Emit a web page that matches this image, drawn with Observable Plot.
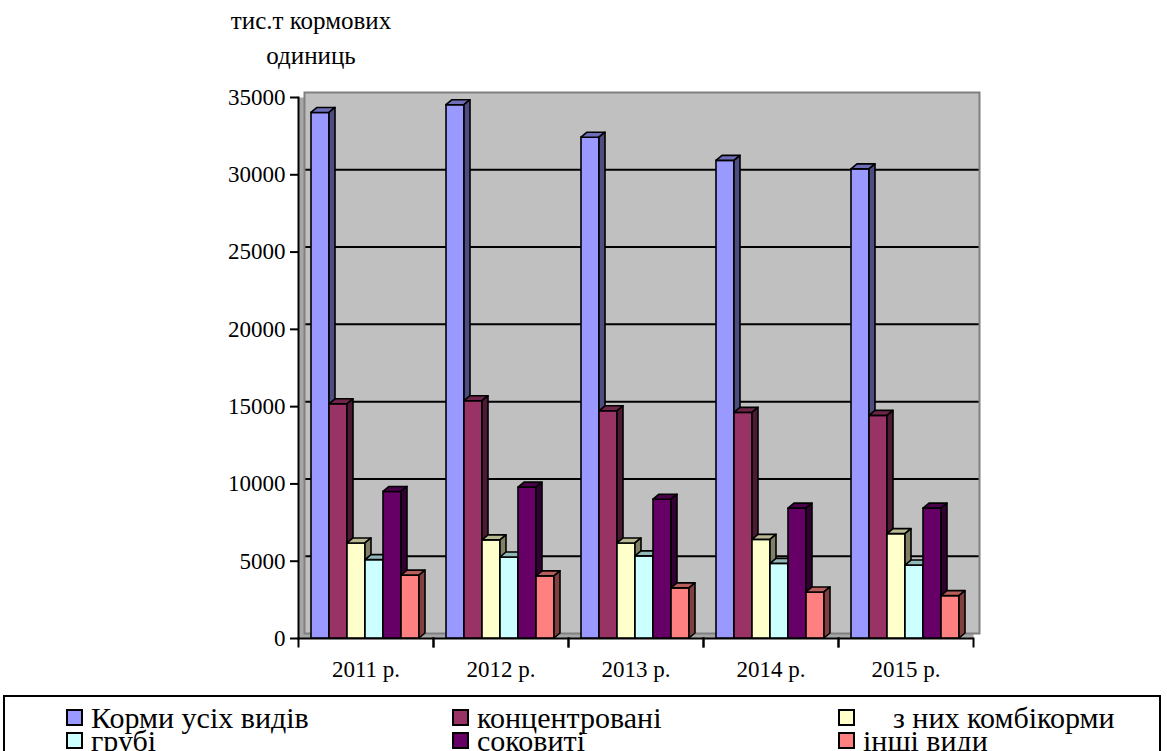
<!DOCTYPE html>
<html>
<head>
<meta charset="utf-8">
<script src="https://cdn.jsdelivr.net/npm/d3@7"></script>
<script src="https://cdn.jsdelivr.net/npm/@observablehq/plot@0.6"></script>
<style>
  html, body { margin: 0; padding: 0; background: #fff; font-family: "Liberation Serif", serif; }
  #wrap { position: relative; width: 1167px; height: 751px; overflow: hidden; }
  #title { position: absolute; left: 191px; top: 3px; width: 240px; text-align: center; font-size: 25px; line-height: 35px; color: #000; }
  #chart { position: absolute; left: 0; top: 0; }
  #legend { position: absolute; left: 3px; top: 695px; width: 1158px; height: 80px; border: 2px solid #000; box-sizing: border-box; background: #fff; }
  .item { position: absolute; display: flex; align-items: center; font-size: 30px; line-height: 23px; height: 23px; white-space: pre; color: #000; }
  .sw { width: 13px; height: 13px; border: 2px solid #000; margin-right: 8px; flex: none; }
</style>
</head>
<body>
<div id="wrap">
  <div id="chart"></div>
  <div id="title">тис.т кормових<br>одиниць</div>
  <div id="legend"></div>
</div>
<script>
// make sure the serif face is resolved before anything is drawn
(() => {
  const ctx = document.createElement("canvas").getContext("2d");
  [23, 25, 30].forEach(s => { ctx.font = `${s}px "Liberation Serif", serif`; ctx.measureText("Корми усіх видів 35000 2011 р."); });
})();

// ---- data ----
const years = ["2011 р.", "2012 р.", "2013 р.", "2014 р.", "2015 р."];
const series = ["Корми усіх видів", "концентровані", "з них комбікорми", "грубі", "соковиті", "інші види"];
const legendLabels = ["Корми усіх видів", "концентровані", "    з них комбікорми", "грубі", "соковиті", "інші види"];
const colors = ["#9999ff", "#993366", "#ffffcc", "#ccffff", "#660066", "#ff8080"];
const allFeed      = [34000, 34500, 32400, 30900, 30350];
const concentrated = [15150, 15350, 14700, 14600, 14400];
const compound     = [6150, 6350, 6150, 6380, 6750];
const coarse       = [5070, 5240, 5310, 4830, 4720];
const succulent    = [9480, 9760, 8980, 8400, 8400];
const otherKinds   = [4070, 4020, 3240, 2980, 2740];
const yTicks = [0, 5000, 10000, 15000, 20000, 25000, 30000, 35000];

const valuesBySeries = [allFeed, concentrated, compound, coarse, succulent, otherKinds];
const rows = [];
years.forEach((yr, i) => series.forEach((s, j) => rows.push({year: yr, series: s, value: valuesBySeries[j][i]})));

// ---- layout ----
const W = 1167, H = 690, mt = 97, mb = 52, ml = 297, mr = 194;
const plotH = H - mt - mb;
const depthX = 6, depthY = 5;
const serif = "\"Liberation Serif\", serif";

const chart = Plot.plot({
  width: W, height: H,
  marginTop: mt, marginBottom: mb, marginLeft: ml, marginRight: mr,
  style: {fontFamily: serif, fontSize: "23px", color: "#000", background: "transparent", overflow: "visible"},
  fx: {domain: years, padding: 0, label: null},
  x: {domain: series, padding: 0, insetLeft: 13, insetRight: 14, axis: null},
  y: {domain: [0, 35000], label: null, axis: null},
  color: {domain: series, range: colors},
  marks: [
    // side wall & floor (front plane)
    Plot.frame({fill: "#a6a6a6", facet: "super"}),
    // back wall
    Plot.frame({fill: "#c0c0c0", dx: depthX, dy: -depthY, facet: "super"}),
    Plot.gridY(yTicks.slice(1, -1), {stroke: "#000", strokeOpacity: 1, strokeWidth: 2, dx: depthX, dy: -depthY}),
    Plot.frame({stroke: "#808080", strokeWidth: 2, dx: depthX, dy: -depthY, facet: "super"}),
    // axes lines
    Plot.ruleY([0], {stroke: "#000", strokeWidth: 2}),
    Plot.frame({anchor: "left", stroke: "#000", strokeWidth: 2, facet: "super"}),
    Plot.frame({anchor: "left", stroke: "#000", strokeWidth: 2, insetTop: plotH, insetBottom: -8}),
    Plot.frame({anchor: "right", stroke: "#000", strokeWidth: 2, insetTop: plotH, insetBottom: -8}),
    Plot.axisY({ticks: yTicks, tickFormat: d => String(d), tickSize: 8, tickPadding: 5, strokeWidth: 2, label: null, fontSize: 23, fontFamily: serif}),
    Plot.axisFx({anchor: "bottom", tickSize: 0, tickPadding: 22, label: null, fontSize: 23, fontFamily: serif}),
    // bars
    Plot.barY(rows, {fx: "year", x: "series", y: "value", fill: "series", stroke: "#000", strokeWidth: 1.6, className: "front"})
  ]
});
document.getElementById("chart").appendChild(chart);

// ---- 3D faces derived from the rendered bars ----
const svgNS = "http://www.w3.org/2000/svg";
chart.querySelectorAll("g.front rect").forEach(r => {
  const x = +r.getAttribute("x"), y = +r.getAttribute("y");
  const w = +r.getAttribute("width"), h = +r.getAttribute("height");
  const base = d3.rgb(r.getAttribute("fill"));
  const topC = d3.rgb(base.r * 0.72, base.g * 0.72, base.b * 0.72).formatHex();
  const sideC = d3.rgb(base.r * 0.5, base.g * 0.5, base.b * 0.5).formatHex();
  const mk = (pts, fill) => {
    const p = document.createElementNS(svgNS, "polygon");
    p.setAttribute("points", pts.map(q => q.join(",")).join(" "));
    p.setAttribute("fill", fill);
    p.setAttribute("stroke", "#000");
    p.setAttribute("stroke-width", "1.6");
    p.setAttribute("stroke-linejoin", "round");
    return p;
  };
  const top = mk([[x, y], [x + depthX, y - depthY], [x + w + depthX, y - depthY], [x + w, y]], topC);
  const side = mk([[x + w, y], [x + w + depthX, y - depthY], [x + w + depthX, y + h - depthY], [x + w, y + h]], sideC);
  r.after(top, side);
});

// ---- legend ----
const legend = document.getElementById("legend");
const colLeft = [61, 447, 833];
const rowTop = [9, 32];
series.forEach((s, i) => {
  const item = document.createElement("div");
  item.className = "item";
  item.style.left = colLeft[i % 3] + "px";
  item.style.top = rowTop[Math.floor(i / 3)] + "px";
  const sw = document.createElement("span");
  sw.className = "sw";
  sw.style.background = colors[i];
  const t = document.createElement("span");
  t.textContent = legendLabels[i];
  item.append(sw, t);
  legend.appendChild(item);
});
</script>
</body>
</html>
